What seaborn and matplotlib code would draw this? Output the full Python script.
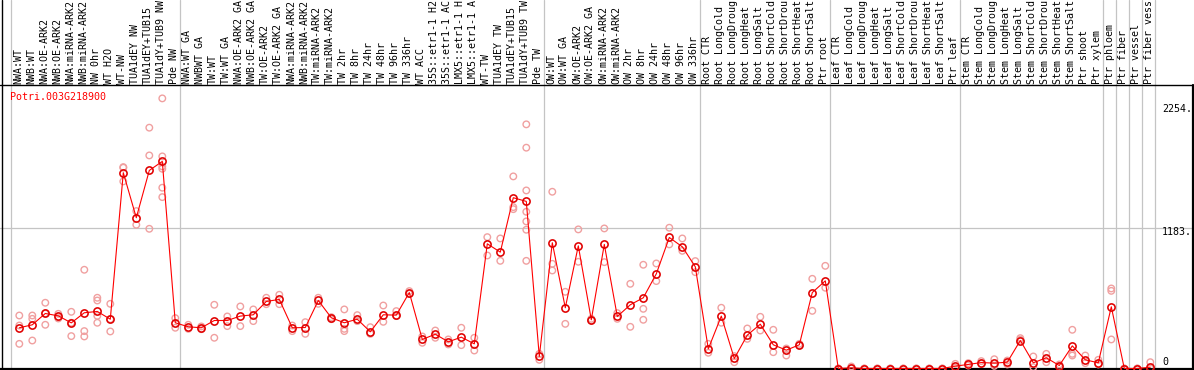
import numpy as np
import pandas as pd
import matplotlib
matplotlib.use("Agg")
import matplotlib.pyplot as plt
import seaborn as sns

# =======================
# Data
# =======================
gene = "Potri.003G218900"

labels = [
    # NW group
    "NWA:WT", "NWB:WT", "NWA:OE-ARK2", "NWB:OE-ARK2", "NWA:miRNA-ARK2", "NWB:miRNA-ARK2",
    "NW 0hr", "WT H2O", "WT-NW", "TUA1dEY NW", "TUA1dEY+TUB15", "TUA1dY+TUB9 NW", "Pde NW",
    # TW group
    "NWA:WT GA", "NWBWT GA", "TW:WT", "TW:WT GA", "NWA:OE-ARK2 GA", "NWB:OE-ARK2 GA",
    "TW:OE-ARK2", "TW:OE-ARK2 GA", "NWA:miRNA-ARK2", "NWB:miRNA-ARK2", "TW:miRNA-ARK2",
    "TW:miRNA-ARK2", "TW 2hr", "TW 8hr", "TW 24hr", "TW 48hr", "TW 96hr", "TW 336hr",
    "WT ACC", "35S::etr1-1 H2", "35S::etr1-1 AC", "LMX5::etr1-1 H", "LMX5::etr1-1 A",
    "WT-TW", "TUA1dEY TW", "TUA1dEY+TUB15", "TUA1dY+TUB9 TW", "Pde TW",
    # OW group
    "OW:WT", "OW:WT GA", "OW:OE-ARK2", "OW:OE-ARK2 GA", "OW:miRNA-ARK2", "OW:miRNA-ARK2",
    "OW 2hr", "OW 8hr", "OW 24hr", "OW 48hr", "OW 96hr", "OW 336hr",
    # root
    "Root CTR", "Root LongCold", "Root LongDroug", "Root LongHeat", "Root LongSalt",
    "Root ShortCold", "Root ShortDrou", "Root ShortHeat", "Root ShortSalt", "Ptr root",
    # leaf
    "Leaf CTR", "Leaf LongCold", "Leaf LongDroug", "Leaf LongHeat", "Leaf LongSalt",
    "Leaf ShortCold", "Leaf ShortDrou", "Leaf ShortHeat", "Leaf ShortSalt", "Ptr leaf",
    # stem
    "Stem CTR", "Stem LongCold", "Stem LongDroug", "Stem LongHeat", "Stem LongSalt",
    "Stem ShortCold", "Stem ShortDrou", "Stem ShortHeat", "Stem ShortSalt", "Ptr shoot",
    "Ptr xylem",
    # wood cells
    "Ptr phloem", "Ptr fiber", "Ptr vessel", "Ptr fiber vess",
]

# first sample index of each group (gray separators)
group_starts = [0, 13, 41, 53, 63, 73, 84, 85, 86, 87, 88]

means = [
    342, 367, 462, 442, 383, 468, 479, 414, 1644, 1266, 1663, 1739, 384,
    350, 342, 403, 403, 440, 451, 563, 580, 342, 344, 571, 426, 384, 414,
    308, 451, 448, 638, 244, 288, 224, 263, 207, 1047, 977, 1434, 1403, 101,
    1056, 510, 1030, 409, 1042, 437, 535, 594, 795, 1100, 1022, 854,
    165, 440, 84, 280, 372, 199, 154, 199, 638, 736,
    0, 6, 0, 0, 0, 0, 0, 0, 0, 20,
    34, 50, 45, 53, 235, 48, 90, 25, 190, 73, 48,
    518, 0, 0, 11,
]

replicates = [
    [445, 361, 207], [445, 417, 235], [552, 462, 367], [459, 431, 420],
    [476, 384, 272], [829, 314, 269], [594, 571, 442, 384], [543, 414, 311],
    [1691, 1686, 1571], [1322, 1207], [2022, 1789, 1173],
    [2268, 1781, 1697, 1677, 1518, 1439], [423, 342],
    [367, 333], [353, 330], [535, 258], [437, 356], [521, 356], [496, 398],
    [594, 540], [619, 540], [361, 314], [389, 291], [594, 543], [431, 414],
    [496, 333, 314], [448, 398], [347, 291], [529, 392], [482, 440], [650, 627],
    [269, 216], [319, 258], [244, 202], [342, 196], [258, 151], [1103, 949],
    [1092, 904], [1613, 1355, 1338], [2050, 1854, 1495, 1316, 1235, 1165, 904],
    [123, 73],
    [1484, 879, 823], [644, 375], [1168, 896], [417, 403], [1176, 893], [465, 417],
    [711, 350], [871, 501, 409], [882, 734], [1182, 1042], [1092, 988], [902, 809],
    [207, 132], [510, 384], [104, 53], [336, 249], [434, 319], [325, 137],
    [168, 109], [207, 193], [753, 484], [862, 678],
    [0, 0], [17, 0], [0, 0], [0, 0], [0, 0], [0, 0], [0, 0], [0, 0], [0, 0], [39, 6],
    [45, 25], [62, 40], [78, 22], [67, 34], [255, 241], [101, 11], [123, 53],
    [34, 17], [325, 123, 109], [109, 45], [73, 34],
    [672, 652, 244], [0, 0], [0, 0], [53, 0],
]

y_ticks = [0, 1183, 2254]
y_tick_labels = ["0", "1183.", "2254."]

# =======================
# Frames
# =======================
x = np.arange(len(labels))
mean_df = pd.DataFrame({"sample": x, "value": means})
rep_df = pd.DataFrame(
    [(i, v) for i, reps in enumerate(replicates) for v in reps],
    columns=["sample", "value"],
)

# =======================
# Plot
# =======================
sns.set_style("white")
plt.rcParams["font.family"] = ["DejaVu Sans Mono", "DejaVu Sans"]

W, H = 1194, 370
fig = plt.figure(figsize=(W / 100, H / 100), dpi=100)
ax = fig.add_axes([0, 0, 1, 1])

# pixel -> data helpers (layout only)
x0_px, dx_px = 19.3, 13.0
y0_px, dy_px = 368.5, 0.1191
def px_x(p):
    return (p - x0_px) / dx_px
def px_y(p):
    return (y0_px - p) / dy_px

ax.set_xlim(px_x(0), px_x(W))
ax.set_ylim(px_y(H), px_y(0))
ax.axis("off")

grid_col = "#c4c4c4"
for s in group_starts:
    ax.axvline(s - 0.62, color=grid_col, lw=0.9, zorder=1)
ax.axhline(1183, color=grid_col, lw=0.9, zorder=1)

# black frame
top_y = px_y(85)
ax.axhline(top_y, color="black", lw=1.0, zorder=2)
ax.axhline(px_y(369.2), color="black", lw=1.6, zorder=2)
ax.axvline(px_x(1.8), color="black", lw=1.0, zorder=2)
ax.plot([px_x(1193.2)] * 2, [px_y(H), top_y], color="black", lw=1.6, zorder=2)

# replicates
sns.scatterplot(data=rep_df, x="sample", y="value", ax=ax, marker="o", s=22,
                facecolors="none", edgecolor="#f0a0a0", linewidth=1.0,
                zorder=3, legend=False)

# means
sns.lineplot(data=mean_df, x="sample", y="value", ax=ax, color="red", lw=0.8,
             marker="o", ms=5.2, mfc="none", mec="#e00000", mew=1.15,
             zorder=4, legend=False, errorbar=None, sort=False)

# sample labels
for i, lab in enumerate(labels):
    ax.text(i - 0.08, px_y(83.5), lab, rotation=90, ha="center", va="bottom",
            fontsize=7.2, color="black", clip_on=True)

# right-hand value labels
offsets = {0: 5.0, 1183: -3.2, 2254: -6.3}
for v, t in zip(y_ticks, y_tick_labels):
    ax.annotate(t, xy=(px_x(1162), v), xytext=(0, offsets[v]),
                textcoords="offset points", ha="left", va="center",
                fontsize=7.2, color="black")

ax.text(px_x(10), px_y(97.5), gene, color="red", fontsize=7.2,
        ha="left", va="center")

ax.set_xlabel("")
ax.set_ylabel("")
fig.savefig("out.png", dpi=100)
